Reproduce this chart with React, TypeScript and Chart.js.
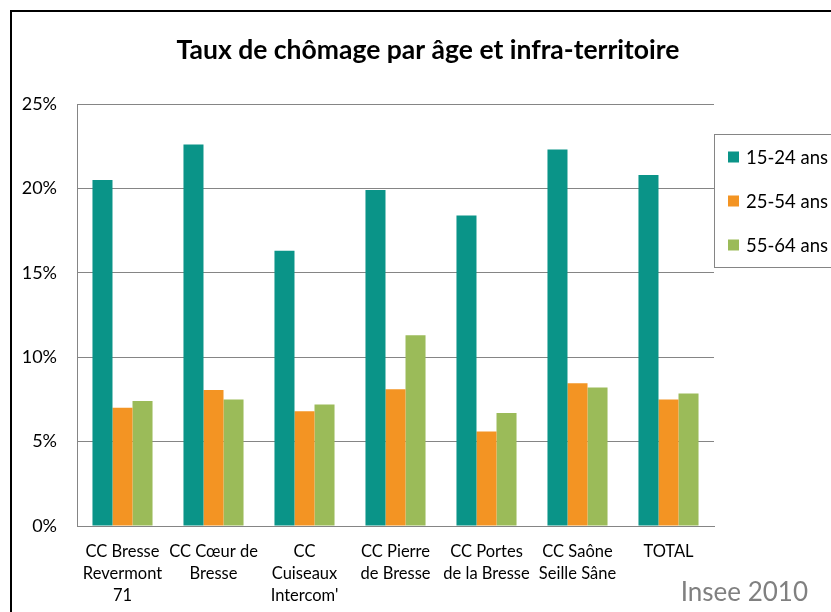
import React, { useEffect, useRef } from "react";
import { Chart, registerables } from "chart.js";

Chart.register(...registerables);

const TITLE = "Taux de chômage par âge et infra-territoire";
const SOURCE = "Insee 2010";

const categories: string[][] = [
  ["CC Bresse", "Revermont", "71"],
  ["CC Cœur de", "Bresse"],
  ["CC", "Cuiseaux", "Intercom'"],
  ["CC Pierre", "de Bresse"],
  ["CC Portes", "de la Bresse"],
  ["CC Saône", "Seille Sâne"],
  ["TOTAL"],
];

const seriesNames = ["15-24 ans", "25-54 ans", "55-64 ans"];
const seriesColors = ["#0A9488", "#F39423", "#9BBB59"];

const age15_24 = [20.5, 22.6, 16.3, 19.9, 18.4, 22.3, 20.8];
const age25_54 = [7.0, 8.05, 6.8, 8.1, 5.6, 8.45, 7.5];
const age55_64 = [7.4, 7.5, 7.2, 11.3, 6.7, 8.2, 7.85];

const yTicks = [0, 5, 10, 15, 20, 25];

const FONT = "Lato, 'Open Sans', sans-serif";
const GRID = "#858585";

const framePlugin = {
  id: "framePlugin",
  beforeDraw(chart: any) {
    const ctx = chart.ctx;
    ctx.save();
    ctx.fillStyle = "#ffffff";
    ctx.fillRect(0, 0, chart.width, chart.height);
    ctx.strokeStyle = "#000000";
    ctx.lineWidth = 2;
    ctx.strokeRect(11, 11, chart.width + 20, chart.height + 20);
    ctx.restore();
  },
  afterDraw(chart: any) {
    const ctx = chart.ctx;
    ctx.save();
    // title
    ctx.fillStyle = "#000000";
    ctx.font = `bold 26.5px ${FONT}`;
    ctx.textAlign = "center";
    ctx.textBaseline = "middle";
    ctx.fillText(TITLE, 428, 50);
    // legend box
    const area = chart.chartArea;
    const lx = area.right + 0.5;
    ctx.strokeStyle = GRID;
    ctx.lineWidth = 1;
    ctx.strokeRect(lx, 134.5, 200, 133);
    ctx.font = `18.5px ${FONT}`;
    ctx.textAlign = "left";
    chart.data.datasets.forEach((ds: any, i: number) => {
      const cy = 157 + i * 44;
      ctx.fillStyle = ds.backgroundColor;
      ctx.fillRect(728, cy - 5.5, 11, 11);
      ctx.fillStyle = "#000000";
      ctx.fillText(ds.label, 746, cy + 1);
    });
    // source
    ctx.fillStyle = "#808080";
    ctx.font = `26px ${FONT}`;
    ctx.textAlign = "right";
    ctx.fillText(SOURCE, 808, 593);
    ctx.restore();
  },
};

export default function App() {
  const ref = useRef<HTMLCanvasElement>(null);
  useEffect(() => {
    document.body.style.margin = "0";
    const chart = new Chart(ref.current!, {
      type: "bar",
      data: {
        labels: categories,
        datasets: [age15_24, age25_54, age55_64].map((d, i) => ({
          label: seriesNames[i],
          data: d,
          backgroundColor: seriesColors[i],
          borderWidth: 0,
          categoryPercentage: 0.66,
          barPercentage: 1,
        })),
      },
      options: {
        animation: false,
        responsive: false,
        devicePixelRatio: 1,
        layout: { padding: { top: 104, right: 117, bottom: 0, left: 0 } },
        plugins: {
          legend: { display: false },
          title: { display: false },
          tooltip: { enabled: false },
        },
        scales: {
          x: {
            grid: { display: false, drawTicks: false },
            border: { display: true, color: GRID, width: 1 },
            ticks: {
              color: "#000000",
              font: { family: FONT, size: 16.5, lineHeight: 1.36 },
              padding: 14,
              maxRotation: 0,
              autoSkip: false,
            },
            afterFit(scale: any) {
              scale.height = 86;
            },
          },
          y: {
            min: 0,
            max: 25,
            afterBuildTicks(scale: any) {
              scale.ticks = yTicks.map((v) => ({ value: v }));
            },
            grid: { color: GRID, lineWidth: 1, drawTicks: false },
            border: { display: true, color: GRID, width: 1 },
            ticks: {
              color: "#000000",
              font: { family: FONT, size: 18 },
              padding: 20,
              callback: (v: any) => `${v}%`,
            },
            afterFit(scale: any) {
              scale.width = 77;
            },
          },
        },
      },
      plugins: [framePlugin],
    });
    return () => chart.destroy();
  }, []);
  return <canvas ref={ref} width={831} height={612} style={{ display: "block" }} />;
}
